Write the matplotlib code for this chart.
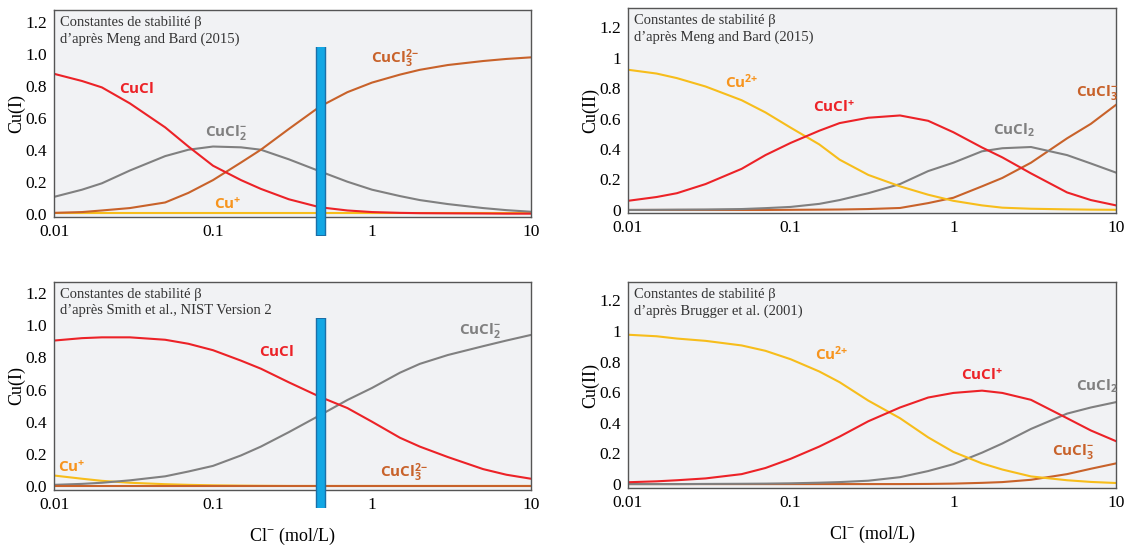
import numpy as np
import matplotlib
matplotlib.use('Agg')
import matplotlib.pyplot as plt

plt.rcParams['font.family'] = ['Liberation Serif', 'DejaVu Serif']
plt.rcParams['mathtext.fontset'] = 'custom'
plt.rcParams['mathtext.rm'] = 'Liberation Serif'
plt.rcParams['mathtext.bf'] = 'Open Sans:bold'

# concentration de Cl- (mol/L)
cl = [0.01, 0.015, 0.02, 0.03, 0.05, 0.07, 0.1, 0.15, 0.2, 0.3, 0.47, 0.7,
      1, 1.5, 2, 3, 5, 7, 10]

# Cu(I) - Meng and Bard (2015)
mb1_cu = [0.003] * 19
mb1_cucl = [0.875, 0.83, 0.79, 0.69, 0.54, 0.42, 0.30, 0.21, 0.155, 0.09, 0.04, 0.02,
            0.01, 0.005, 0.003, 0.002, 0.001, 0.0, 0.0]
mb1_cucl2 = [0.105, 0.15, 0.19, 0.27, 0.36, 0.40, 0.42, 0.415, 0.40, 0.34, 0.265, 0.20,
             0.15, 0.11, 0.085, 0.06, 0.035, 0.022, 0.012]
mb1_cucl3 = [0.005, 0.01, 0.02, 0.035, 0.07, 0.13, 0.21, 0.32, 0.40, 0.53, 0.67, 0.76,
             0.82, 0.87, 0.90, 0.93, 0.955, 0.968, 0.978]

# Cu(II) - Meng and Bard (2015)
mb2_cu = [0.92, 0.895, 0.865, 0.81, 0.72, 0.64, 0.54, 0.43, 0.33, 0.23, 0.155, 0.10,
          0.06, 0.03, 0.015, 0.008, 0.004, 0.002, 0.001]
mb2_cucl = [0.06, 0.085, 0.11, 0.17, 0.27, 0.36, 0.44, 0.52, 0.57, 0.605, 0.62, 0.585,
            0.51, 0.41, 0.345, 0.24, 0.115, 0.065, 0.03]
mb2_cucl2 = [0.0, 0.001, 0.002, 0.003, 0.006, 0.012, 0.02, 0.04, 0.065, 0.11, 0.17, 0.255,
             0.31, 0.385, 0.405, 0.413, 0.36, 0.305, 0.245]
mb2_cucl3 = [0.0, 0.0, 0.0, 0.0, 0.0, 0.0, 0.001, 0.002, 0.003, 0.006, 0.013, 0.045,
             0.08, 0.155, 0.21, 0.31, 0.47, 0.565, 0.69]

# Cu(I) - Smith et al., NIST
sm_cu = [0.065, 0.045, 0.032, 0.02, 0.011, 0.007, 0.004, 0.002, 0.001, 0.0, 0.0, 0.0,
         0.0, 0.0, 0.0, 0.0, 0.0, 0.0, 0.0]
sm_cucl = [0.905, 0.92, 0.925, 0.925, 0.91, 0.885, 0.845, 0.78, 0.73, 0.645, 0.555, 0.485,
           0.40, 0.30, 0.245, 0.18, 0.105, 0.07, 0.045]
sm_cucl2 = [0.007, 0.013, 0.02, 0.035, 0.06, 0.09, 0.125, 0.19, 0.245, 0.335, 0.44, 0.535,
            0.61, 0.705, 0.76, 0.815, 0.87, 0.905, 0.94]
sm_cucl3 = [0.0] * 19

# Cu(II) - Brugger et al. (2001)
br_cu = [0.975, 0.965, 0.95, 0.935, 0.905, 0.87, 0.815, 0.735, 0.665, 0.545, 0.43, 0.305,
         0.21, 0.135, 0.095, 0.05, 0.025, 0.014, 0.007]
br_cucl = [0.012, 0.018, 0.025, 0.037, 0.065, 0.105, 0.165, 0.245, 0.31, 0.41, 0.50, 0.565,
           0.595, 0.61, 0.595, 0.55, 0.43, 0.35, 0.28]
br_cucl2 = [0.0, 0.0, 0.0, 0.001, 0.002, 0.003, 0.005, 0.009, 0.013, 0.022, 0.045, 0.085,
            0.13, 0.205, 0.265, 0.36, 0.46, 0.50, 0.535]
br_cucl3 = [0.0, 0.0, 0.0, 0.0, 0.0, 0.0, 0.0, 0.0, 0.0, 0.0, 0.0, 0.001,
            0.003, 0.008, 0.013, 0.028, 0.065, 0.10, 0.135]

cl_mer = 0.48  # eau de mer

YEL = '#f7bd1b'
RED = '#ec2227'
GRY = '#808080'
BRN = '#c8622a'
ORG = '#f7941d'

fig = plt.figure(figsize=(11.28, 5.49), dpi=100)

def panel(rect, ylim, series, labels, source, ylabel, fmt1, bar=False, xlabel=False):
    ax = fig.add_axes(rect)
    ax.set_facecolor('#f1f2f4')
    for y, c in series:
        ax.plot(cl, y, color=c, lw=1.5)
    ax.set_xscale('log')
    ax.set_xlim(0.01, 10)
    ax.set_ylim(*ylim)
    ax.set_xticks([0.01, 0.1, 1, 10])
    ax.set_xticklabels(['0.01', '0.1', '1', '10'])
    ax.minorticks_off()
    yt = [0, 0.2, 0.4, 0.6, 0.8, 1.0, 1.2]
    ax.set_yticks(yt)
    if fmt1:
        ax.set_yticklabels(['%.1f' % v for v in yt])
    else:
        ax.set_yticklabels(['0', '0.2', '0.4', '0.6', '0.8', '1', '1.2'])
    ax.tick_params(which='both', length=0, labelsize=12.5, pad=5)
    for s in ax.spines.values():
        s.set_color('#555555')
        s.set_linewidth(1.0)
    ax.set_ylabel(ylabel, fontsize=13, labelpad=0)
    if xlabel:
        ax.set_xlabel(r'Cl$^{-}$ (mol/L)', fontsize=13, labelpad=9)
    ax.text(0.012, 0.97, 'Constantes de stabilité β\nd\u2019après ' + source,
            transform=ax.transAxes, ha='left', va='top', fontsize=10.5,
            color='#333333', linespacing=1.3)
    for x, y, s, c in labels:
        ax.text(x, y, s, color=c, fontsize=11, ha='center', va='center')
    if bar:
        ax.plot([cl_mer, cl_mer], [-0.14, 1.045], color='#1b6fa8', lw=7.5,
                solid_capstyle='butt', clip_on=False, zorder=5)
        ax.plot([cl_mer, cl_mer], [-0.135, 1.04], color='#12a7e4', lw=5.5,
                solid_capstyle='butt', clip_on=False, zorder=6)
    return ax

panel([0.0479, 0.605, 0.4228, 0.377], (-0.02, 1.275),
      [(mb1_cu, YEL), (mb1_cucl2, GRY), (mb1_cucl3, BRN), (mb1_cucl, RED)],
      [(0.033, 0.78, r'$\mathbf{CuCl}$', RED),
       (0.12, 0.51, r'$\mathbf{CuCl_2^{-}}$', GRY),
       (1.4, 0.97, r'$\mathbf{CuCl_3^{2{-}}}$', BRN),
       (0.123, 0.06, r'$\mathbf{Cu^{+}}$', ORG)],
      'Meng and Bard (2015)', 'Cu(I)', True, bar=True)

panel([0.5567, 0.612, 0.4327, 0.3734], (-0.02, 1.325),
      [(mb2_cucl3, BRN), (mb2_cucl2, GRY), (mb2_cu, YEL), (mb2_cucl, RED)],
      [(0.05, 0.84, r'$\mathbf{Cu^{2{+}}}$', ORG),
       (0.185, 0.675, r'$\mathbf{CuCl^{+}}$', RED),
       (2.35, 0.52, r'$\mathbf{CuCl_2}$', GRY),
       (7.6, 0.77, r'$\mathbf{CuCl_3^{-}}$', BRN)],
      'Meng and Bard (2015)', 'Cu(II)', False)

panel([0.0479, 0.1075, 0.4228, 0.379], (-0.025, 1.27),
      [(sm_cu, YEL), (sm_cucl2, GRY), (sm_cucl3, BRN), (sm_cucl, RED)],
      [(0.25, 0.84, r'$\mathbf{CuCl}$', RED),
       (4.8, 0.97, r'$\mathbf{CuCl_2^{-}}$', GRY),
       (0.013, 0.12, r'$\mathbf{Cu^{+}}$', ORG),
       (1.6, 0.08, r'$\mathbf{CuCl_3^{2{-}}}$', BRN)],
      'Smith et al., NIST Version 2', 'Cu(I)', True, bar=True, xlabel=True)

panel([0.5567, 0.111, 0.4327, 0.375], (-0.026, 1.318),
      [(br_cucl3, BRN), (br_cucl2, GRY), (br_cu, YEL), (br_cucl, RED)],
      [(0.18, 0.85, r'$\mathbf{Cu^{2{+}}}$', ORG),
       (1.5, 0.71, r'$\mathbf{CuCl^{+}}$', RED),
       (7.6, 0.64, r'$\mathbf{CuCl_2}$', GRY),
       (5.4, 0.21, r'$\mathbf{CuCl_3^{-}}$', BRN)],
      'Brugger et al. (2001)', 'Cu(II)', False, xlabel=True)

fig.savefig('out.png', dpi=100)
